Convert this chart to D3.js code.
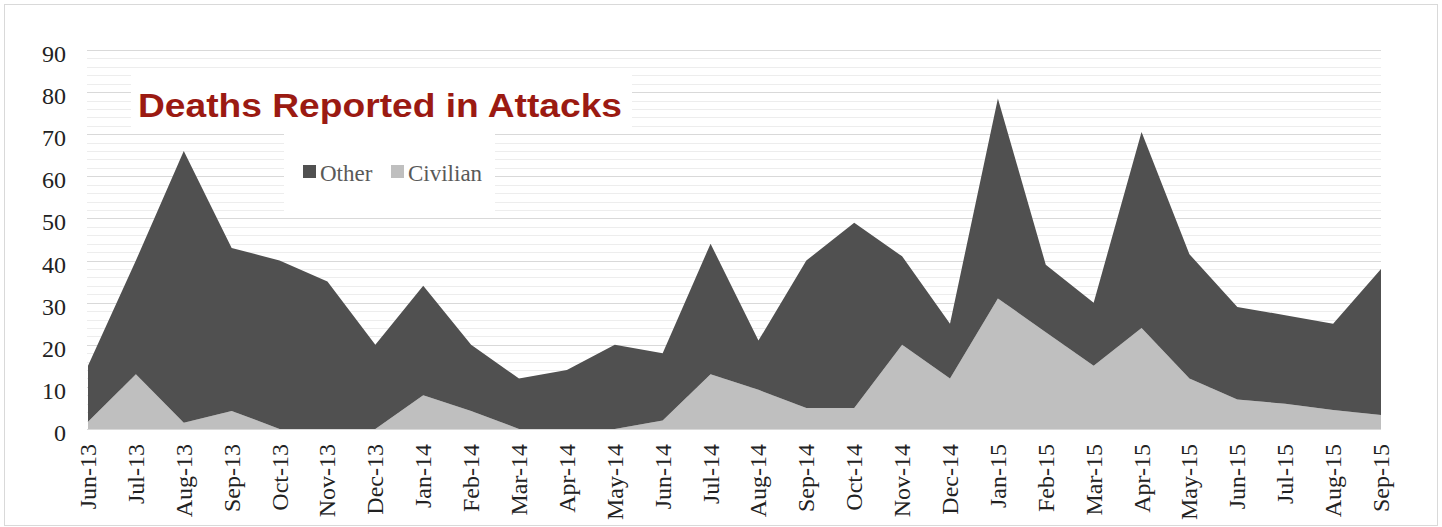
<!DOCTYPE html>
<html>
<head>
<meta charset="utf-8">
<script src="https://cdn.jsdelivr.net/npm/d3@7"></script>
<style>
  body { margin: 0; background: #fff; }
  svg { display: block; }
</style>
</head>
<body>
<div id="chart"></div>
<script>
// months on the x axis
const months = ["Jun-13", "Jul-13", "Aug-13", "Sep-13", "Oct-13", "Nov-13", "Dec-13",
    "Jan-14", "Feb-14", "Mar-14", "Apr-14", "May-14", "Jun-14", "Jul-14", "Aug-14",
    "Sep-14", "Oct-14", "Nov-14", "Dec-14", "Jan-15", "Feb-15", "Mar-15", "Apr-15",
    "May-15", "Jun-15", "Jul-15", "Aug-15", "Sep-15"];

// deaths per month, stacked: civilian at the bottom, other on top
const civilian = [1.7, 13, 1.5, 4.3, 0, 0, 0, 8, 4.3, 0, 0, 0, 2, 13, 9.3,
    5, 5, 20, 12, 31, 23, 15, 24, 12, 7, 6, 4.5, 3.3];
const other = [13.3, 27, 64.5, 38.7, 40, 35, 20, 26, 15.7, 12, 14, 20, 16, 31, 11.7,
    35, 44, 21, 13, 47.5, 16, 15, 46.5, 29.5, 22, 21, 20.5, 34.7];

const yTicks = [0, 10, 20, 30, 40, 50, 60, 70, 80, 90];
const legendItems = ["Other", "Civilian"];

const W = 1442, H = 527;
const colors = {Other: "#505050", Civilian: "#bfbfbf"};

const svg = d3.select("#chart").append("svg")
    .attr("width", W)
    .attr("height", H);

// outer frame
svg.append("rect")
    .attr("x", 4.5).attr("y", 4.5)
    .attr("width", 1433).attr("height", 521)
    .attr("fill", "#fff")
    .attr("stroke", "#d9d9d9");

const x = d3.scalePoint().domain(months).range([88, 1381]);
const y = d3.scaleLinear().domain([0, 90]).range([429, 50]);

// gridlines: minor every 2, major every 10
const minor = d3.range(0, 91, 2).filter(v => v % 10 !== 0);
svg.append("g").selectAll("line")
    .data(minor)
    .join("line")
    .attr("x1", 87).attr("x2", 1381)
    .attr("y1", d => Math.round(y(d)) + 0.5)
    .attr("y2", d => Math.round(y(d)) + 0.5)
    .attr("stroke", "#ededed");
svg.append("g").selectAll("line")
    .data(yTicks)
    .join("line")
    .attr("x1", 87).attr("x2", 1381)
    .attr("y1", d => Math.round(y(d)) + 0.5)
    .attr("y2", d => Math.round(y(d)) + 0.5)
    .attr("stroke", "#d9d9d9");

// stacked areas
const table = months.map((m, i) => ({month: m, Civilian: civilian[i], Other: other[i]}));
const series = d3.stack().keys(["Civilian", "Other"])(table);

const area = d3.area()
    .x(d => x(d.data.month))
    .y0(d => y(d[0]))
    .y1(d => y(d[1]));

svg.append("g").selectAll("path")
    .data(series)
    .join("path")
    .attr("fill", d => colors[d.key])
    .attr("d", area);

// y axis labels
const font = "Liberation Serif, Times New Roman, serif";
svg.append("g").selectAll("text")
    .data(yTicks)
    .join("text")
    .attr("x", 66)
    .attr("y", d => y(d) + 12)
    .attr("text-anchor", "end")
    .style("font", `24px ${font}`)
    .attr("fill", "#222")
    .text(d => d);

// x axis labels, rotated
svg.append("g").selectAll("text")
    .data(months)
    .join("text")
    .attr("transform", d => `translate(${x(d) + 8}, 444) rotate(-90)`)
    .attr("text-anchor", "end")
    .style("font", `24px ${font}`)
    .attr("fill", "#222")
    .text(d => d);

// title box and title
svg.append("rect")
    .attr("x", 131).attr("y", 68)
    .attr("width", 501).attr("height", 60)
    .attr("fill", "#fff");
svg.append("text")
    .attr("x", 138).attr("y", 117)
    .attr("textLength", 484)
    .attr("lengthAdjust", "spacingAndGlyphs")
    .style("font", "bold 33px Liberation Sans, Arial, sans-serif")
    .attr("fill", "#9b1a12")
    .text("Deaths Reported in Attacks");

// legend box
svg.append("rect")
    .attr("x", 284).attr("y", 128)
    .attr("width", 211).attr("height", 84)
    .attr("fill", "#fff");

const legendX = [303, 391];
const legend = svg.append("g").selectAll("g")
    .data(legendItems)
    .join("g")
    .attr("transform", (d, i) => `translate(${legendX[i]}, 165)`);
legend.append("rect")
    .attr("width", 13).attr("height", 13)
    .attr("fill", d => colors[d]);
legend.append("text")
    .attr("x", 17).attr("y", 16)
    .style("font", `23px ${font}`)
    .attr("fill", "#595959")
    .text(d => d);
</script>
</body>
</html>
